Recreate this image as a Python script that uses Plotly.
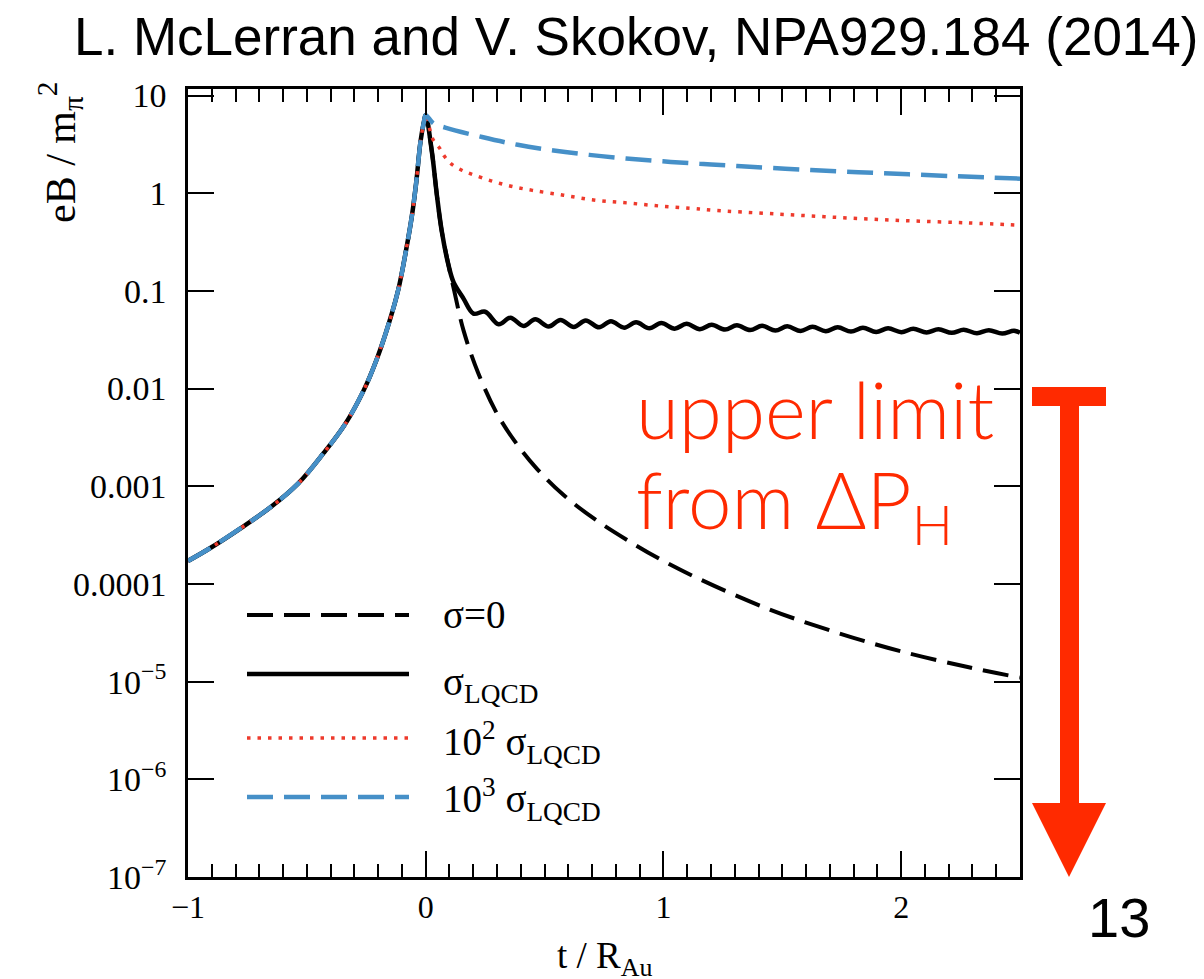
import plotly.graph_objects as go

# ---- data (t / R_Au, eB / m_pi^2) ----
t_rise = [-1.0, -0.908, -0.774, -0.645, -0.536, -0.43, -0.339, -0.262, -0.206,
          -0.154, -0.115, -0.083, -0.058, -0.04, -0.022, -0.008, 0.0]
eB_rise = [1.72e-4, 2.32e-4, 3.78e-4, 6.31e-4, 1.07e-3, 2.18e-3, 4.33e-3, 9.48e-3,
           0.0200, 0.0475, 0.104, 0.258, 0.589, 1.29, 3.36, 5.3, 6.3]

t_sigma0 = [0.026, 0.047, 0.068, 0.096, 0.12, 0.159, 0.222, 0.30, 0.384, 0.468,
            0.58, 0.707, 0.847, 0.988, 1.156, 1.437, 1.718, 2.0, 2.28, 2.5]
eB_sigma0 = [2.65, 0.955, 0.402, 0.183, 0.10, 0.0394, 0.0142, 5.53e-3, 2.69e-3,
             1.51e-3, 8.13e-4, 4.68e-4, 2.82e-4, 1.78e-4, 1.11e-4, 5.6e-5,
             3.24e-5, 2.04e-5, 1.41e-5, 1.10e-5]

t_lqcd = [0.026, 0.047, 0.068, 0.096, 0.117, 0.159, 0.201, 0.25, 0.307, 0.356,
          0.412, 0.461, 0.517, 0.567, 0.623, 0.673, 0.729, 0.779, 0.835, 0.885,
          0.941, 0.991, 1.047, 1.097, 1.153, 1.203, 1.259, 1.309, 1.365, 1.415,
          1.471, 1.521, 1.577, 1.627, 1.683, 1.733, 1.789, 1.839, 1.895, 1.945,
          2.001, 2.051, 2.107, 2.157, 2.213, 2.263, 2.319, 2.369, 2.425, 2.475, 2.5]
eB_lqcd = [2.65, 0.955, 0.402, 0.183, 0.123, 0.0834, 0.0585, 0.0612, 0.0455, 0.0530,
           0.0437, 0.0512, 0.0432, 0.0505, 0.0428, 0.0498, 0.0424, 0.0488, 0.0420, 0.0477,
           0.0415, 0.0470, 0.0411, 0.0460, 0.0406, 0.0450, 0.0402, 0.0444, 0.0397, 0.0439,
           0.0393, 0.0434, 0.0389, 0.0429, 0.0386, 0.0424, 0.0383, 0.0419, 0.0380, 0.0414,
           0.0378, 0.0409, 0.0375, 0.0405, 0.0372, 0.0400, 0.0369, 0.0396, 0.0366, 0.0391, 0.0372]

t_1e2 = [0.03, 0.058, 0.078, 0.107, 0.148, 0.19, 0.275, 0.359, 0.449, 0.58, 0.714,
         0.847, 0.981, 1.114, 1.205, 1.472, 1.739, 2.006, 2.28, 2.5]
eB_1e2 = [3.57, 2.91, 2.40, 2.0, 1.74, 1.58, 1.34, 1.18, 1.07, 0.955, 0.848, 0.796,
          0.741, 0.702, 0.670, 0.614, 0.564, 0.525, 0.497, 0.47]

t_1e3 = [0.033, 0.082, 0.237, 0.387, 0.538, 0.688, 0.843, 0.997, 1.152, 1.31, 1.62,
         1.929, 2.238, 2.5]
eB_1e3 = [5.18, 4.70, 3.76, 3.13, 2.74, 2.47, 2.27, 2.12, 2.00, 1.90, 1.73, 1.60, 1.49, 1.41]

y_tickvals = [1e-7, 1e-6, 1e-5, 1e-4, 1e-3, 1e-2, 1e-1, 1, 10]
y_ticktext = ["10<sup>−7</sup>", "10<sup>−6</sup>", "10<sup>−5</sup>", "0.0001",
              "0.001", "0.01", "0.1", "1", "10"]
x_tickvals = [-1, 0, 1, 2]
x_ticktext = ["−1", "0", "1", "2"]

legend_labels = ["σ=0", "σ<sub>LQCD</sub>", "10<sup>2</sup> σ<sub>LQCD</sub>",
                 "10<sup>3</sup> σ<sub>LQCD</sub>"]

BLACK = "#000000"
RED = "#ee3a2c"
BLUE = "#4690c8"
TXTRED = "#ff2a00"
SERIF = "Liberation Serif"
SANS = "Liberation Sans"

W, H = 1204, 979
L, R, T, B = 188, 184, 89, 102
pw, ph = W - L - R, H - T - B


def px(xp):
    return (xp - L) / pw


def py(yp):
    return (H - B - yp) / ph


series = [
    (t_sigma0, eB_sigma0, dict(color=BLACK, width=4, dash="26px,11px")),
    (t_lqcd, eB_lqcd, dict(color=BLACK, width=4.5)),
    (t_1e2, eB_1e2, dict(color=RED, width=3.5, dash="3.5px,7px")),
    (t_1e3, eB_1e3, dict(color=BLUE, width=4.5, dash="26px,11px")),
]

fig = go.Figure()
for tt, ee, ln in series:
    fig.add_trace(go.Scatter(
        x=t_rise + tt, y=eB_rise + ee, mode="lines",
        line=dict(shape="spline", smoothing=1.0, **ln),
        showlegend=False, hoverinfo="skip"))

axis_common = dict(showline=True, linecolor=BLACK, linewidth=2.5, mirror="ticks",
                   ticks="inside", ticklen=26, tickwidth=2, tickcolor=BLACK,
                   showgrid=False, zeroline=False)

fig.update_xaxes(range=[-1, 2.5], tickvals=x_tickvals, ticktext=x_ticktext,
                 tickfont=dict(family=SERIF, size=32, color=BLACK),
                 minor=dict(dtick=0.1, ticks="inside", ticklen=13, tickwidth=2,
                            tickcolor=BLACK, showgrid=False),
                 ticklabelstandoff=0, **axis_common)
fig.update_yaxes(type="log", range=[-7, 1.067], tickvals=y_tickvals, ticktext=y_ticktext,
                 tickfont=dict(family=SERIF, size=34, color=BLACK),
                 ticklabelstandoff=12, **axis_common)

ann = []
# title
ann.append(dict(text="L. McLerran and V. Skokov, NPA929.184 (2014)", x=px(636), y=py(37),
                xref="paper", yref="paper", showarrow=False, xanchor="center", yanchor="middle",
                font=dict(family=SANS, size=53, color=BLACK)))
# axis titles
ann.append(dict(text="eB / m<sub>π</sub><sup>2</sup>", x=px(60), y=py(152), textangle=-90,
                xref="paper", yref="paper", showarrow=False, xanchor="center", yanchor="middle",
                font=dict(family=SERIF, size=42, color=BLACK)))
ann.append(dict(text="t / R<sub>Au</sub>", x=px(604), y=py(959),
                xref="paper", yref="paper", showarrow=False, xanchor="center", yanchor="middle",
                font=dict(family=SERIF, size=37, color=BLACK)))
# red text
ann.append(dict(text="upper limit", x=px(634), y=py(360), align="left",
                xref="paper", yref="paper", showarrow=False, xanchor="left", yanchor="top",
                font=dict(family="Lato", weight=300, size=78, color=TXTRED)))
ann.append(dict(text="from ΔP<sub>H</sub>", x=px(634), y=py(450), align="left",
                xref="paper", yref="paper", showarrow=False, xanchor="left", yanchor="top",
                font=dict(family="Lato", weight=300, size=78, color=TXTRED)))
# page number
ann.append(dict(text="13", x=px(1119), y=py(917),
                xref="paper", yref="paper", showarrow=False, xanchor="center", yanchor="middle",
                font=dict(family=SANS, size=56, color=BLACK)))

# legend (manual)
leg_line_y = [615, 674, 738, 797]
leg_text_y = [614, 684, 742, 799]
shapes = []
for (tt, ee, ln), ly, ty, lab in zip(series, leg_line_y, leg_text_y, legend_labels):
    shapes.append(dict(type="line", xref="paper", yref="paper", x0=px(247), x1=px(409),
                       y0=py(ly), y1=py(ly), line=ln))
    ann.append(dict(text=lab, x=px(441), y=py(ty), xref="paper", yref="paper",
                    showarrow=False, xanchor="left", yanchor="middle",
                    font=dict(family=SERIF, size=39, color=BLACK)))

# red arrow
shapes.append(dict(type="rect", xref="paper", yref="paper", x0=px(1032), x1=px(1106),
                   y0=py(406), y1=py(387), fillcolor=TXTRED, line=dict(width=0)))
shapes.append(dict(type="rect", xref="paper", yref="paper", x0=px(1060), x1=px(1079),
                   y0=py(806), y1=py(404), fillcolor=TXTRED, line=dict(width=0)))
shapes.append(dict(type="path", xref="paper", yref="paper",
                   path=f"M{px(1032)},{py(803)} L{px(1106)},{py(803)} L{px(1069)},{py(877)} Z",
                   fillcolor=TXTRED, line=dict(width=0)))

fig.update_layout(width=W, height=H, margin=dict(l=L, r=R, t=T, b=B, autoexpand=False),
                  paper_bgcolor="white", plot_bgcolor="white",
                  annotations=ann, shapes=shapes, showlegend=False)

fig.write_html("out.html")
